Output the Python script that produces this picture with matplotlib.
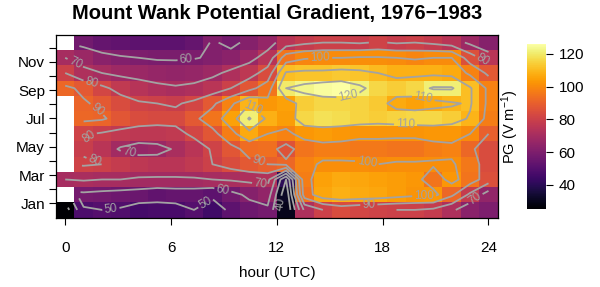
import numpy as np
import matplotlib
matplotlib.use("Agg")
from matplotlib import pyplot as plt

plt.rcParams['font.family'] = ['Liberation Sans', 'DejaVu Sans']
plt.rcParams['mathtext.fontset'] = 'custom'
plt.rcParams['mathtext.rm'] = 'Liberation Sans'
plt.rcParams['mathtext.it'] = 'Liberation Sans'

nan = np.nan

# potential gradient (V/m), one row per month band, 24 columns over 0-24 h UTC
jan = [25, 48, 50, 49, 46, 47, 47, 50, 45, 52, 56, 58, 30, 72, 80, 84, 82, 81, 80, 80, 78, 72, 63, 60]
feb = [nan, 58, 57, 56, 55, 53, 54, 54, 52, 57, 62, 65, 32, 95, 106, 108, 107, 106, 104, 102, 103, 92, 78, 65]
mar = [70, 71, 70, 70, 69, 69, 69, 69, 70, 71, 72, 73, 40, 97, 105, 107, 106, 105, 104, 103, 95, 103, 95, 85]
apr = [nan, 81, 80, 78, 76, 75, 75, 77, 80, 84, 88, 90, 92, 98, 101, 101, 101, 100, 101, 101, 101, 101, 96, 84]
may = [nan, 79, 75, 69, 66, 67, 71, 75, 81, 87, 93, 94, 86, 95, 97, 97, 96, 96, 95, 95, 97, 98, 92, 84]
jun = [nan, 81, 79, 77, 76, 76, 77, 82, 87, 97, 107, 100, 98, 103, 104, 103, 102, 102, 102, 102, 103, 103, 100, 90]
jul = [nan, 92, 91, 87, 84, 83, 83, 88, 95, 105, 121, 108, 104, 116, 118, 117, 115, 114, 115, 116, 116, 114, 109, 97]
aug = [nan, 91, 88, 84, 81, 80, 79, 82, 88, 98, 109, 103, 105, 114, 116, 116, 115, 113, 107, 105, 107, 109, 111, 98]
sep = [92, 88, 82, 77, 74, 72, 71, 72, 75, 80, 87, 95, 120, 123, 125, 126, 122, 116, 114, 116, 121, 121, 111, 98]
okt = [80, 72, 70, 68, 67, 66, 65, 66, 68, 72, 76, 84, 111, 112, 112, 113, 112, 110, 108, 108, 108, 107, 98, 88]
nov = [70, 67, 63, 61, 60, 59, 59, 59.5, 61, 63, 67, 74, 95, 99, 100, 100, 101, 101, 100, 99, 100, 100, 85, 75]
dez = [nan, 57, 54, 53, 52, 52, 52, 54, 61, 58, 62, 66, 75, 78, 80, 80, 79, 81, 79, 80, 78, 75, 68, 62]

monate = ['Jan', 'Feb', 'Mar', 'Apr', 'May', 'Jun', 'Jul', 'Aug', 'Sep', 'Oct', 'Nov', 'Dec']
stunden_ticks = [0, 6, 12, 18, 24]
stufen = np.arange(30, 131, 10)

# label positions (hour, month)
label_pos = [(6.86, 11.13), (0.49, 10.72), (1.54, 9.66), (1.82, 7.66), (10.85, 8.04),
             (14.46, 11.27), (16.08, 8.39), (20.26, 8.15), (23.58, 10.96), (19.3, 6.72),
             (1.63, 5.31), (3.63, 4.6), (1.63, 3.9), (11.04, 4.25), (17.12, 4.01),
             (8.95, 2.01), (11.04, 2.01), (2.58, 0.72), (8.0, 0.95), (12.09, 0.95),
             (20.35, 1.42), (17.22, 0.72), (23.2, 1.42)]

z = np.ma.masked_invalid(np.array([jan, feb, mar, apr, may, jun, jul, aug, sep, okt, nov, dez], dtype=float))

# grid geometry
nx = z.shape[1]
ny = z.shape[0]
xc = np.linspace(0, 24, nx)
dx = xc[1] - xc[0]
xe = np.concatenate([xc - dx / 2, [xc[-1] + dx / 2]])
ye = np.linspace(0, 12.89, ny + 1)
yc = (ye[:-1] + ye[1:]) / 2

fig = plt.figure(figsize=(6, 2.87), dpi=100)
ax = fig.add_axes([56 / 600, 1 - 217.5 / 287, 441.7 / 600, 182.5 / 287])
cax = fig.add_axes([526.7 / 600, 1 - 209.3 / 287, 19.3 / 600, 165.3 / 287])

mesh = ax.pcolormesh(xe, ye, z, cmap='inferno', vmin=z.min(), vmax=z.max(), shading='flat')
cs = ax.contour(xc, yc, z, levels=stufen, colors='#a3a3a3', linewidths=1.3)
ax.clabel(cs, fmt='%d', fontsize=8.5, colors='#a3a3a3', inline=True, inline_spacing=2,
          manual=label_pos)

ax.set_xlim(xe[0], xe[-1])
ax.set_ylim(ye[0], ye[-1])
ax.set_xticks(stunden_ticks)
ax.set_yticks(np.arange(1, 13))
ax.set_yticklabels([m if i % 2 == 0 else '' for i, m in enumerate(monate)])
ax.tick_params(direction='out', length=5, width=0.8, labelsize=11, pad=3)
ax.tick_params(axis='x', pad=12)
for s in ax.spines.values():
    s.set_linewidth(0.9)
ax.set_xlabel('hour (UTC)', fontsize=11, labelpad=7.5)

fig.text(0.4615, 1 - 14 / 287, 'Mount Wank Potential Gradient, 1976\u22121983',
         ha='center', va='center', fontsize=14.5, fontweight='bold')

cb = fig.colorbar(mesh, cax=cax)
cb.outline.set_visible(False)
cb.set_ticks([40, 60, 80, 100, 120])
cax.tick_params(direction='out', length=5, width=0.8, labelsize=11, pad=4)
cax.yaxis.set_label_position('left')
cb.set_label(r'PG (V m$^{-1}$)', fontsize=10.5, labelpad=4)

fig.savefig('out.png', dpi=100)
